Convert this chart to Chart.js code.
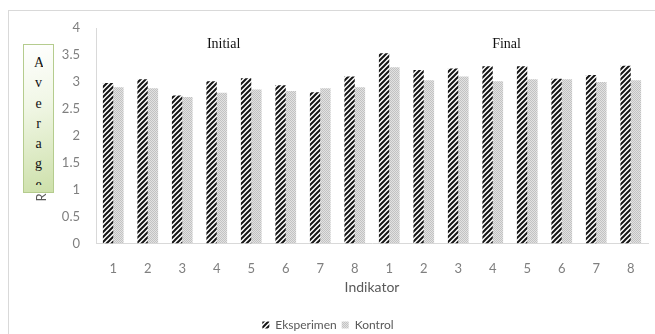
<!DOCTYPE html>
<html>
<head>
    <title>Rata-rata Indikator</title>
    <script src="https://cdn.jsdelivr.net/npm/chart.js"></script>
    <style>
        body { margin: 0; background: #fff; }
        #wrap { position: relative; width: 655px; height: 334px; }
        #avgBox {
            position: absolute; left: 23px; top: 44px; width: 31px; height: 149px;
            border: 1px solid #b5cc8e; box-sizing: border-box;
            background: linear-gradient(165deg, #ffffff 0%, #f1f7e6 40%, #cde0aa 100%);
        }
        #avgText {
            margin: 8px 10px 0 10px; height: 132px; overflow: hidden;
            font-family: "Liberation Serif", serif; font-size: 14px; color: #111;
            text-align: center; line-height: 20.3px; word-break: break-all;
        }
    </style>
</head>
<body>
<div id="wrap">
    <canvas id="nilaiChart" width="655" height="334"></canvas>
    <div id="avgBox"><div id="avgText">Average</div></div>
</div>

<script>
    // indikator 1-8 untuk tes awal lalu tes akhir
    const indikator = ['1', '2', '3', '4', '5', '6', '7', '8', '1', '2', '3', '4', '5', '6', '7', '8'];
    const eksperimen = [2.98, 3.05, 2.75, 3.01, 3.07, 2.94, 2.81, 3.10, 3.53, 3.22, 3.25, 3.29, 3.29, 3.06, 3.13, 3.30];
    const kontrol = [2.90, 2.88, 2.72, 2.80, 2.86, 2.83, 2.88, 2.90, 3.27, 3.03, 3.10, 3.01, 3.05, 3.05, 3.00, 3.03];
    const labelTes = ['Initial', 'Final'];
    const judulSumbuY = 'Rata-rata';

    // pola arsir miring hitam
    function polaArsir() {
        const c = document.createElement('canvas');
        c.width = 5; c.height = 5;
        const g = c.getContext('2d');
        g.fillStyle = '#fff';
        g.fillRect(0, 0, 5, 5);
        g.strokeStyle = '#151515';
        g.lineWidth = 2;
        g.beginPath();
        g.moveTo(-1, 6); g.lineTo(6, -1);
        g.moveTo(-1, 1); g.lineTo(1, -1);
        g.moveTo(4, 6); g.lineTo(6, 4);
        g.stroke();
        return g.createPattern(c, 'repeat');
    }

    // pola titik abu-abu
    function polaTitik() {
        const c = document.createElement('canvas');
        c.width = 2; c.height = 2;
        const g = c.getContext('2d');
        g.fillStyle = '#e2e2e2';
        g.fillRect(0, 0, 2, 2);
        g.fillStyle = '#c2c2c2';
        g.fillRect(0, 0, 1, 1);
        g.fillRect(1, 1, 1, 1);
        return g.createPattern(c, 'repeat');
    }

    const bingkai = {
        id: 'bingkai',
        beforeDraw(chart) {
            const ctx = chart.ctx;
            ctx.save();
            ctx.strokeStyle = '#d9d9d9';
            ctx.lineWidth = 1;
            ctx.strokeRect(8.5, 10.5, 700, 400);
            ctx.restore();
        }
    };

    // judul kelompok di atas batang dan judul sumbu y
    const judulTes = {
        id: 'judulTes',
        afterDatasetsDraw(chart) {
            const { ctx, scales: { x, y } } = chart;
            const step = x.getPixelForValue(1) - x.getPixelForValue(0);
            ctx.save();
            ctx.font = '14px "Liberation Serif", serif';
            ctx.fillStyle = '#111';
            ctx.textAlign = 'center';
            ctx.textBaseline = 'middle';
            ctx.fillText(labelTes[0], x.getPixelForValue(3) + 0.2 * step, y.getPixelForValue(3.7));
            ctx.fillText(labelTes[1], x.getPixelForValue(11) + 0.4 * step, y.getPixelForValue(3.7));

            ctx.translate(42, y.getPixelForValue(0.78));
            ctx.rotate(-Math.PI / 2);
            ctx.font = '13px Lato';
            ctx.fillStyle = '#595959';
            ctx.textAlign = 'left';
            ctx.fillText(judulSumbuY, 0, 0);
            ctx.restore();
        }
    };

    const ctx = document.getElementById('nilaiChart').getContext('2d');
    const nilaiChart = new Chart(ctx, {
        type: 'bar',
        data: {
            labels: indikator,
            datasets: [{
                label: 'Eksperimen',
                data: eksperimen,
                backgroundColor: polaArsir(),
                categoryPercentage: 0.6,
                barPercentage: 1
            }, {
                label: 'Kontrol',
                data: kontrol,
                backgroundColor: polaTitik(),
                categoryPercentage: 0.6,
                barPercentage: 1
            }]
        },
        options: {
            responsive: false,
            animation: false,
            layout: { padding: { left: 8, right: 7, top: 28, bottom: -7 } },
            plugins: {
                legend: {
                    position: 'bottom',
                    labels: {
                        boxWidth: 7, boxHeight: 7,
                        color: '#595959',
                        font: { family: 'Lato', size: 12 },
                        padding: 5
                    }
                },
                tooltip: { enabled: false }
            },
            scales: {
                x: {
                    grid: { display: false, drawTicks: false },
                    border: { display: true, color: '#d9d9d9' },
                    ticks: { color: '#7f7f7f', font: { family: 'Lato', size: 13 }, padding: 17, maxRotation: 0 },
                    title: { display: true, text: 'Indikator', color: '#595959', font: { family: 'Lato', size: 14 }, padding: { top: -14, bottom: 18 } }
                },
                y: {
                    min: 0, max: 4,
                    grid: { display: false, drawTicks: false },
                    border: { display: true, color: '#d9d9d9' },
                    ticks: {
                        stepSize: 0.5, color: '#7f7f7f', font: { family: 'Lato', size: 13 }, padding: 16,
                        callback: v => String(v)
                    },
                    afterFit(scale) { scale.width = 88; }
                }
            }
        },
        plugins: [bingkai, judulTes]
    });
</script>
</body>
</html>
